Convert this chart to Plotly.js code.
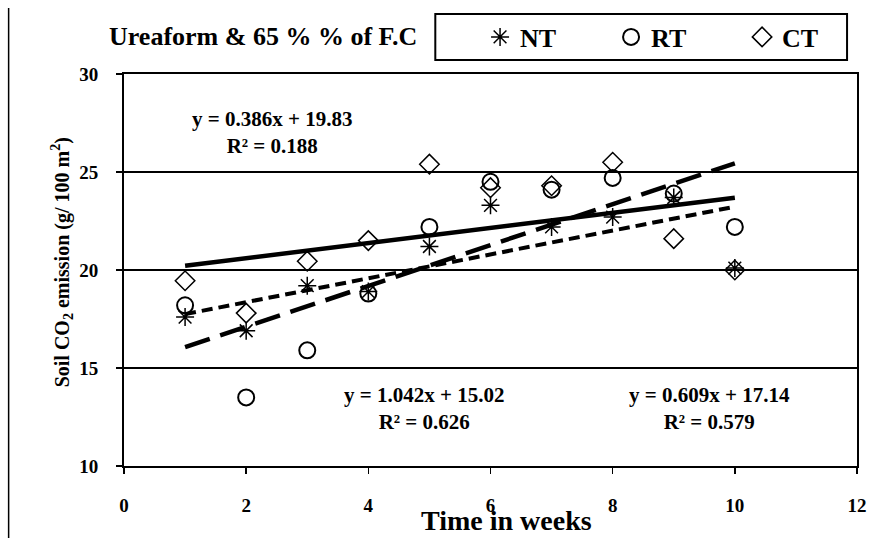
<!DOCTYPE html>
<html>
<head>
<meta charset="utf-8">
<script src="https://cdn.plot.ly/plotly-3.0.1.min.js"></script>
<style>html,body{margin:0;padding:0;background:#fff;}#chart{width:885px;height:538px;}</style>
</head>
<body>
<div id="chart"></div>
<script>
// Data
const weeks = [1, 2, 3, 4, 5, 6, 7, 8, 9, 10];
const NT = [17.6, 16.9, 19.2, 18.9, 21.2, 23.3, 22.2, 22.7, 23.7, 20.1];
const RT = [18.2, 13.5, 15.9, 18.8, 22.2, 24.5, 24.1, 24.7, 23.9, 22.2];
const CT = [19.45, 17.8, 20.45, 21.5, 25.4, 24.2, 24.3, 25.5, 21.6, 20.0];
// Trendline coefficients shown on the chart
const trendCT = {slope: 0.386, intercept: 19.83, r2: 0.188};
const trendRT = {slope: 1.042, intercept: 15.02, r2: 0.626};
const trendNT = {slope: 0.609, intercept: 17.14, r2: 0.579};
const xTicks = [0, 2, 4, 6, 8, 10, 12];
const yTicks = [10, 15, 20, 25, 30];

const font = 'Liberation Serif, Times New Roman, serif';
const trendX = [weeks[0], weeks[weeks.length - 1]];
const line = (t) => trendX.map(x => t.slope * x + t.intercept);
const eq = (t) => '<b>y = ' + t.slope.toFixed(3) + 'x + ' + t.intercept.toFixed(2) + '<br>R² = ' + t.r2.toFixed(3) + '</b>';
const bold = (v) => '<b>' + v + '</b>';

// pixel helpers for placing text in paper coords (plot area 124..861 x 74..466)
const px = (x) => (x - 124) / 737;
const py = (y) => (466 - y) / 392;

const traces = [
  {x: trendX, y: line(trendCT), mode: 'lines', line: {color: '#000', width: 4.5}, showlegend: false, hoverinfo: 'skip'},
  {x: trendX, y: line(trendRT), mode: 'lines', line: {color: '#000', width: 4.5, dash: '26px,11px'}, showlegend: false, hoverinfo: 'skip'},
  {x: trendX, y: line(trendNT), mode: 'lines', line: {color: '#000', width: 4, dash: '11px,6px'}, showlegend: false, hoverinfo: 'skip'},
  {x: weeks, y: NT, name: '<b>NT</b>', mode: 'markers', marker: {symbol: 'asterisk-open', size: 15, color: '#000', line: {color: '#000', width: 1.5}}},
  {x: weeks, y: RT, name: '<b>RT</b>', mode: 'markers', marker: {symbol: 'circle-open', size: 16, color: '#000', line: {color: '#000', width: 2}}},
  {x: weeks, y: CT, name: '<b>CT</b>', mode: 'markers', marker: {symbol: 'diamond-open', size: 15, color: '#000', line: {color: '#000', width: 1.5}}}
];

const eqFont = {family: font, size: 21, color: '#000', weight: 700};
const layout = {
  width: 885, height: 538,
  margin: {l: 124, r: 24, t: 74, b: 72},
  paper_bgcolor: '#fff', plot_bgcolor: '#fff',
  font: {family: font, color: '#000'},
  xaxis: {
    range: [0, 12], tickvals: xTicks, ticktext: xTicks.map(bold),
    showgrid: false, zeroline: false,
    showline: true, linecolor: '#000', linewidth: 2, mirror: true,
    ticks: 'outside', ticklen: 6, tickwidth: 1.5, tickcolor: '#000',
    ticklabelstandoff: 15,
    tickfont: {family: font, size: 19, color: '#000', weight: 700}
  },
  yaxis: {
    range: [10, 30], tickvals: yTicks, ticktext: yTicks.map(bold),
    showgrid: true, gridcolor: '#000', gridwidth: 1.5, zeroline: false,
    showline: true, linecolor: '#000', linewidth: 2, mirror: true,
    ticks: 'outside', ticklen: 6, tickwidth: 1.5, tickcolor: '#000',
    ticklabelstandoff: 14,
    tickfont: {family: font, size: 19, color: '#000', weight: 700}
  },
  legend: {
    orientation: 'h', x: px(482), xanchor: 'left', y: py(37), yanchor: 'middle',
    borderwidth: 0, bgcolor: 'rgba(0,0,0,0)',
    font: {family: font, size: 26, color: '#000', weight: 700},
    entrywidth: 86, itemwidth: 30, tracegroupgap: 0
  },
  shapes: [
    {type: 'rect', xref: 'paper', yref: 'paper', x0: px(437), x1: px(851), y0: py(14), y1: py(60), line: {color: '#000', width: 2}, fillcolor: 'rgba(0,0,0,0)'},
    {type: 'line', xref: 'paper', yref: 'paper', x0: px(8), x1: px(8), y0: py(8), y1: py(538), line: {color: '#000', width: 1.5}}
  ],
  annotations: [
    {xref: 'paper', yref: 'paper', x: px(264), y: py(37), xanchor: 'center', yanchor: 'middle', text: '<b>Ureaform &amp; 65 % % of F.C</b>', showarrow: false,
     font: {family: font, size: 26, color: '#000', weight: 700}},
    {xref: 'paper', yref: 'paper', x: px(509), y: py(520), xanchor: 'center', yanchor: 'middle', text: '<b>Time in weeks</b>', showarrow: false,
     font: {family: font, size: 28, color: '#000', weight: 700}},
    {xref: 'paper', yref: 'paper', x: px(62), y: py(262), xanchor: 'center', yanchor: 'middle', text: '<b>Soil CO<sub>2</sub> emission (g/ 100 m<sup>2</sup>)</b>', showarrow: false, textangle: -90,
     font: {family: font, size: 20, color: '#000', weight: 700}},
    {xref: 'paper', yref: 'paper', x: px(273), y: py(132), xanchor: 'center', yanchor: 'middle', text: eq(trendCT), showarrow: false, font: eqFont},
    {xref: 'paper', yref: 'paper', x: px(426), y: py(408), xanchor: 'center', yanchor: 'middle', text: eq(trendRT), showarrow: false, font: eqFont},
    {xref: 'paper', yref: 'paper', x: px(713), y: py(408), xanchor: 'center', yanchor: 'middle', text: eq(trendNT), showarrow: false, font: eqFont}
  ]
};

Plotly.newPlot('chart', traces, layout, {displayModeBar: false, staticPlot: true});
</script>
</body>
</html>
